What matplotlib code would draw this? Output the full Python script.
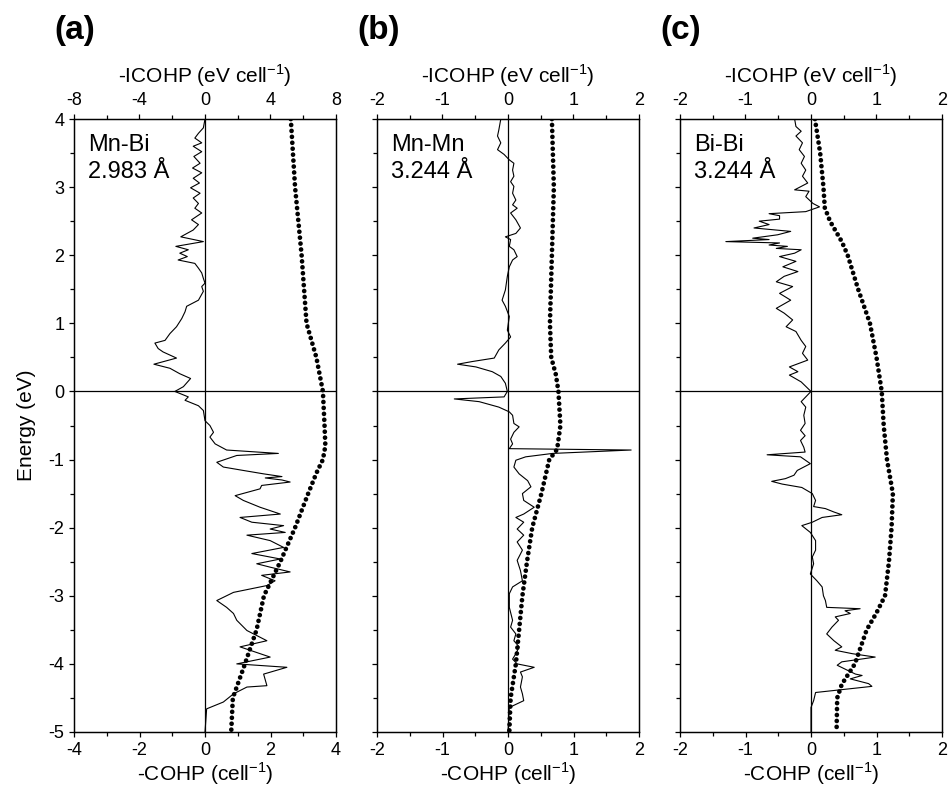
import numpy as np
import matplotlib.pyplot as plt
from matplotlib.ticker import MultipleLocator

plt.rcParams['font.family'] = ['Liberation Sans', 'DejaVu Sans']
plt.rcParams['mathtext.fontset'] = 'custom'
plt.rcParams['mathtext.rm'] = 'Liberation Sans'
plt.rcParams['axes.unicode_minus'] = False

# ---- panel (a) Mn-Bi ----
mnbi_e = [4.00, 3.87, 3.79, 3.72, 3.65, 3.60, 3.52, 3.45, 3.35, 3.28, 3.21, 3.13, 3.06, 2.99,
          2.91, 2.84, 2.76, 2.69, 2.62, 2.52, 2.45, 2.37, 2.27, 2.20, 2.13, 2.08, 2.03, 1.98,
          1.93, 1.88, 1.81, 1.74, 1.66, 1.59, 1.54, 1.47, 1.34, 1.25, 1.17, 1.07, 0.95, 0.85,
          0.75, 0.71, 0.63, 0.58, 0.49, 0.40, 0.34, 0.26, 0.19, 0.07, 0.00, -0.08, -0.13, -0.21,
          -0.28, -0.43, -0.50, -0.60, -0.67, -0.77, -0.86, -0.91, -0.94, -1.04, -1.11, -1.16,
          -1.21, -1.25, -1.27, -1.30, -1.33, -1.38, -1.43, -1.53, -1.60, -1.70, -1.80, -1.85,
          -1.92, -1.97, -2.02, -2.07, -2.11, -2.19, -2.29, -2.38, -2.46, -2.53, -2.58, -2.65,
          -2.70, -2.78, -2.85, -2.95, -3.07, -3.17, -3.26, -3.36, -3.51, -3.66, -3.75, -3.90,
          -4.00, -4.05, -4.15, -4.32, -4.34, -4.44, -4.56, -4.66, -5.00]
mnbi_cohp = [0.00, -0.05, -0.20, -0.31, -0.10, -0.36, -0.10, -0.34, -0.15, -0.38, -0.10, -0.36,
             -0.17, -0.44, -0.15, -0.36, -0.20, -0.31, -0.10, -0.41, -0.20, -0.36, -0.74, -0.05,
             -0.89, -0.51, -0.77, -0.54, -0.82, -0.31, -0.20, -0.10, -0.05, 0.00, -0.10, -0.05,
             -0.20, -0.56, -0.61, -0.71, -0.87, -1.07, -1.22, -1.53, -1.43, -1.28, -0.87, -1.56,
             -1.07, -0.77, -0.44, -0.66, -0.92, -0.51, -0.61, -0.20, -0.05, 0.00, 0.15, 0.26,
             0.15, 0.31, 0.66, 2.24, 0.97, 0.36, 0.56, 1.17, 1.79, 2.35, 1.84, 2.35, 2.60, 1.73,
             1.68, 0.92, 1.17, 1.68, 2.30, 1.07, 1.43, 2.40, 1.99, 2.45, 1.28, 1.99, 2.40, 1.43,
             2.30, 1.58, 1.99, 2.60, 1.73, 2.14, 1.89, 0.87, 0.36, 0.66, 0.87, 0.97, 1.28, 1.89,
             1.07, 1.99, 0.97, 2.50, 1.79, 1.89, 1.28, 0.87, 0.56, 0.05, 0.00]
mnbi_icohp_e = [4.0, 3.0, 2.0, 1.0, 0.5, 0.0, -0.5, -0.8, -1.0, -1.2, -1.5, -2.0, -2.5, -3.0,
                -3.5, -4.0, -4.5, -5.0]
mnbi_icohp = [5.24, 5.5, 5.9, 6.2, 6.8, 7.2, 7.3, 7.35, 7.2, 6.8, 6.3, 5.5, 4.6, 3.6, 3.15,
              2.44, 1.7, 1.6]

# ---- panel (b) Mn-Mn ----
mnmn_e = [4.00, 3.84, 3.75, 3.65, 3.55, 3.48, 3.40, 3.35, 3.25, 3.16, 3.08, 3.01, 2.91, 2.81,
          2.74, 2.69, 2.62, 2.52, 2.40, 2.32, 2.27, 2.23, 2.13, 2.08, 1.98, 1.93, 1.83, 1.69,
          1.49, 1.34, 1.25, 1.10, 0.90, 0.80, 0.71, 0.61, 0.49, 0.44, 0.40, 0.36, 0.29, 0.22,
          0.12, 0.00, -0.08, -0.11, -0.15, -0.23, -0.30, -0.35, -0.47, -0.52, -0.60, -0.70,
          -0.77, -0.84, -0.86, -0.91, -0.96, -1.01, -1.11, -1.21, -1.31, -1.40, -1.50, -1.60,
          -1.70, -1.80, -1.85, -1.92, -2.02, -2.11, -2.21, -2.33, -2.48, -2.63, -2.78, -2.87,
          -2.97, -3.17, -3.36, -3.46, -3.56, -3.66, -3.75, -3.85, -3.93, -4.00, -4.05, -4.12,
          -4.19, -4.34, -4.44, -4.54, -4.64, -5.00]
mnmn_cohp = [-0.11, -0.14, -0.16, -0.11, -0.16, -0.06, 0.02, 0.09, 0.07, 0.09, 0.04, 0.09, 0.07,
             0.12, 0.07, 0.14, 0.04, 0.12, 0.19, 0.12, -0.04, 0.04, 0.02, 0.09, 0.14, 0.07, 0.02,
             -0.01, -0.04, -0.09, -0.04, 0.02, -0.01, 0.04, -0.04, -0.14, -0.21, -0.54, -0.77,
             -0.49, -0.24, -0.11, -0.04, -0.01, -0.06, -0.82, -0.44, -0.14, 0.02, 0.07, 0.09,
             0.17, 0.09, 0.04, 0.07, 0.02, 1.88, 0.68, 0.27, 0.12, 0.09, 0.17, 0.30, 0.35, 0.22,
             0.24, 0.40, 0.24, 0.12, 0.24, 0.14, 0.24, 0.14, 0.22, 0.14, 0.19, 0.22, 0.07, 0.02,
             0.02, 0.07, 0.04, 0.12, 0.09, 0.17, 0.12, 0.07, 0.14, 0.40, 0.19, 0.22, 0.19, 0.22,
             0.24, 0.02, 0.00]
mnmn_icohp_e = [4.0, 3.0, 2.0, 1.0, 0.5, 0.25, 0.0, -0.5, -0.85, -1.0, -1.5, -2.0, -2.5, -3.0,
                -3.5, -4.0, -4.5, -5.0]
mnmn_icohp = [0.67, 0.70, 0.67, 0.64, 0.66, 0.73, 0.77, 0.80, 0.75, 0.63, 0.51, 0.37, 0.29,
              0.22, 0.17, 0.12, 0.04, 0.02]

# ---- panel (c) Bi-Bi ----
bibi_e = [4.00, 3.89, 3.82, 3.75, 3.65, 3.55, 3.45, 3.35, 3.25, 3.16, 3.06, 2.96, 2.94, 2.86,
          2.76, 2.71, 2.64, 2.61, 2.58, 2.53, 2.50, 2.45, 2.40, 2.35, 2.30, 2.25, 2.23, 2.20,
          2.18, 2.15, 2.13, 2.10, 2.08, 2.03, 1.98, 1.91, 1.83, 1.76, 1.69, 1.61, 1.54, 1.44,
          1.34, 1.22, 1.15, 1.05, 0.95, 0.88, 0.75, 0.66, 0.56, 0.46, 0.36, 0.29, 0.24, 0.14,
          0.00, -0.08, -0.15, -0.23, -0.35, -0.47, -0.57, -0.65, -0.72, -0.82, -0.89, -0.93,
          -0.96, -1.06, -1.16, -1.23, -1.28, -1.32, -1.36, -1.41, -1.50, -1.60, -1.69, -1.72,
          -1.77, -1.81, -1.85, -1.92, -1.97, -2.07, -2.19, -2.33, -2.43, -2.53, -2.68, -2.78,
          -2.87, -3.00, -3.07, -3.17, -3.19, -3.22, -3.26, -3.31, -3.36, -3.46, -3.56, -3.66,
          -3.75, -3.80, -3.85, -3.90, -3.97, -4.02, -4.10, -4.15, -4.17, -4.22, -4.29, -4.33,
          -4.42, -4.54, -4.64, -5.00]
bibi_cohp = [-0.25, -0.23, -0.15, -0.23, -0.13, -0.18, -0.10, -0.15, -0.08, -0.13, -0.05, -0.25,
             -0.03, -0.08, 0.03, 0.13, -0.08, -0.64, -0.48, -0.48, -0.79, -0.64, -0.87, -0.31,
             -0.51, -0.89, -0.64, -1.30, -0.48, -0.64, -0.36, -0.53, -0.15, -0.25, -0.48, -0.23,
             -0.43, -0.20, -0.41, -0.53, -0.28, -0.48, -0.31, -0.53, -0.41, -0.28, -0.38, -0.23,
             -0.15, -0.08, -0.13, -0.05, -0.33, -0.20, -0.33, -0.15, 0.00, -0.08, -0.15, -0.08,
             -0.11, -0.09, -0.16, -0.09, -0.16, -0.11, -0.09, -0.67, -0.16, -0.01, -0.21, -0.26,
             -0.39, -0.60, -0.44, -0.14, 0.02, 0.07, 0.04, 0.22, 0.35, 0.47, 0.17, 0.02, -0.14,
             -0.01, 0.07, 0.07, 0.02, 0.04, -0.01, 0.09, 0.17, 0.19, 0.22, 0.24, 0.75, 0.52, 0.60,
             0.37, 0.42, 0.32, 0.24, 0.35, 0.47, 0.37, 0.63, 0.98, 0.47, 0.40, 0.57, 0.68, 0.78,
             0.60, 0.88, 0.93, 0.07, 0.04, 0.00, 0.00]
bibi_icohp_e = [4.0, 3.5, 3.0, 2.7, 2.5, 2.2, 2.0, 1.5, 1.0, 0.5, 0.0, -0.5, -1.0, -1.5, -2.0,
                -2.5, -3.0, -3.25, -3.5, -4.0, -4.3, -4.5, -5.0]
bibi_icohp = [0.06, 0.14, 0.19, 0.21, 0.29, 0.47, 0.56, 0.72, 0.90, 1.00, 1.08, 1.11, 1.16,
              1.25, 1.23, 1.19, 1.13, 1.00, 0.85, 0.67, 0.47, 0.40, 0.39]

panels = [
    ('(a)', 'Mn-Bi\n2.983 Å', mnbi_e, mnbi_cohp, mnbi_icohp_e, mnbi_icohp, 4, 8, 2, 1, 4, 2),
    ('(b)', 'Mn-Mn\n3.244 Å', mnmn_e, mnmn_cohp, mnmn_icohp_e, mnmn_icohp, 2, 2, 1, 0.5, 1, 0.5),
    ('(c)', 'Bi-Bi\n3.244 Å', bibi_e, bibi_cohp, bibi_icohp_e, bibi_icohp, 2, 2, 1, 0.5, 1, 0.5),
]

fig = plt.figure(figsize=(9.48, 7.89), dpi=100)
lefts = [74, 377, 680]
W, H = 948, 789

for i, (tag, note, e, cohp, ie, icohp, xl, tl, bmaj, bmin, tmaj, tmin) in enumerate(panels):
    ax = fig.add_axes([lefts[i] / W, 1 - 732 / H, 262 / W, 613 / H])
    ax.plot(cohp, e, color='black', lw=0.8)
    ax.axhline(0, color='black', lw=0.9)
    ax.axvline(0, color='black', lw=0.9)
    ax.set_xlim(-xl, xl)
    ax.set_ylim(-5, 4)
    ax.xaxis.set_major_locator(MultipleLocator(bmaj))
    ax.xaxis.set_minor_locator(MultipleLocator(bmin))
    ax.yaxis.set_major_locator(MultipleLocator(1))
    ax.yaxis.set_minor_locator(MultipleLocator(0.5))
    ax.tick_params(which='both', direction='out', labelsize=13, width=0.9)
    ax.tick_params(which='major', length=3.5)
    ax.tick_params(which='minor', length=3.0)
    ax.set_xlabel(r'-COHP (cell$^{\mathrm{-1}}$)', fontsize=15, labelpad=1)
    if i == 0:
        ax.set_ylabel('Energy (eV)', fontsize=15, labelpad=9)
    else:
        ax.set_yticklabels([])
    for s in ax.spines.values():
        s.set_linewidth(0.9)
    ax.text(0.055, 0.975, note, transform=ax.transAxes, fontsize=17, va='top', ha='left',
            linespacing=1.3)

    ax2 = ax.twiny()
    ax2.plot(icohp, ie, color='black', lw=3.4, linestyle=(0, (0.01, 1.25)),
             dash_capstyle='round')
    ax2.set_xlim(-tl, tl)
    ax2.xaxis.set_major_locator(MultipleLocator(tmaj))
    ax2.xaxis.set_minor_locator(MultipleLocator(tmin))
    ax2.tick_params(which='both', direction='out', labelsize=13, width=0.9)
    ax2.tick_params(which='major', length=3.5)
    ax2.tick_params(which='minor', length=3.0)
    ax2.set_xlabel(r'-ICOHP (eV cell$^{\mathrm{-1}}$)', fontsize=15, labelpad=7)
    for s in ax2.spines.values():
        s.set_linewidth(0.9)

    fig.text((lefts[i] - 20) / W, 1 - 31 / H, tag, fontsize=24, fontweight='bold',
             ha='left', va='center')

fig.savefig('out.png', dpi=100)
